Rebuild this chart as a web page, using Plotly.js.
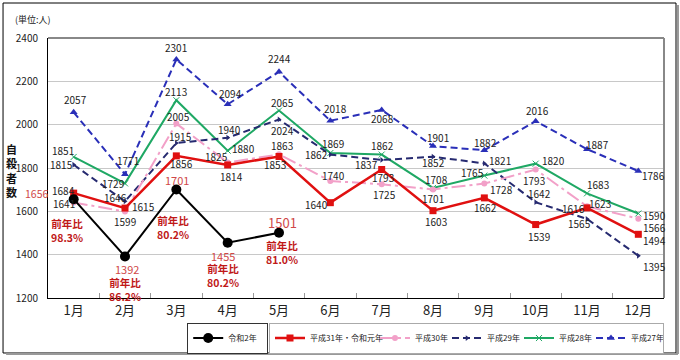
<!DOCTYPE html>
<html><head><meta charset="utf-8">
<script src="https://cdn.plot.ly/plotly-3.0.1.min.js"></script>
<style>html,body{margin:0;padding:0;background:#fff}#c{width:680px;height:360px}</style>
</head><body><div id="c"></div>
<script>
const months = ['1月','2月','3月','4月','5月','6月','7月','8月','9月','10月','11月','12月'];
const reiwa2 = [1656,1392,1701,1455,1501];
const ratioR2 = ['98.3%','86.2%','80.2%','80.2%','81.0%'];
const h31 = [1684,1615,1856,1814,1853,1640,1793,1603,1662,1539,1616,1494];
const h30 = [1641,1599,2005,1825,1863,1740,1725,1701,1728,1793,1623,1566];
const h29 = [1815,1646,1915,1940,2024,1862,1837,1852,1821,1642,1565,1395];
const h28 = [1851,1729,2113,1880,2065,1869,1862,1708,1765,1820,1683,1590];
const h27 = [2057,1771,2301,2094,2244,2018,2068,1901,1882,2016,1887,1786];
const names = ['令和2年','平成31年・令和元年','平成30年','平成29年','平成28年','平成27年'];

// label pixel offsets [dx, dy] (dy positive = up)
const off27 = [[2,13],[3,14],[0,12],[3,11],[0,13],[5,12],[1,-9],[5,9],[1,8],[2,11],[10,5],[15,-4]];
const off28 = [[-11,6],[-12,0],[0,9],[16,2],[3,8],[3,10],[1,9],[3,8],[-12,3],[18,3],[11,9],[16,-2]];
const off29 = [[-12,0],[-10,4],[4,7],[2,8],[3,-11],[-14,0],[-15,-5],[0,-6],[16,3],[4,9],[-8,-5],[16,-11]];
const off30 = [[-10,-1],[0,-10],[2,7],[-11,6],[3,9],[3,6],[3,-10],[0,-9],[17,-6],[-2,-11],[13,3],[16,-9]];
const off31 = [[-10,3],[18,2],[5,-8],[4,-12],[-4,-8],[-14,-2],[1,-8],[3,-11],[1,-10],[3,-12],[-14,-1],[16,-6]];
const offR2 = [[-37,6],[2,-13],[1,9],[-5,-13],[3,10]];
const offRatio = [[-7,-31],[0,-33],[-3,-38],[-5,-33],[3,-20]];
const legendW = [34, 60, 27, 27, 27, 27];
const legendRank = [1, 1, 2, 3, 4, 5];

const font = "'Noto Sans CJK JP', 'Liberation Sans', sans-serif";
const traces = [
  {name:names[0], legend:'legend', x:months.slice(0,5), y:reiwa2, mode:'lines+markers', line:{color:'#000', width:2}, marker:{symbol:'circle', size:10, color:'#000'}},
  {name:names[1], legend:'legend2', x:months, y:h31, mode:'lines+markers', line:{color:'#e01010', width:2.5}, marker:{symbol:'square', size:7, color:'#e01010'}},
  {name:names[2], legend:'legend2', x:months, y:h30, mode:'lines+markers', line:{color:'#f2a0c8', width:2, dash:'14px,4px,3px,4px'}, marker:{symbol:'circle', size:6, color:'#f2a0c8'}},
  {name:names[3], legend:'legend2', x:months, y:h29, mode:'lines+markers', line:{color:'#262a70', width:2, dash:'7px,4px'}, marker:{symbol:'triangle-right', size:5, color:'#262a70'}},
  {name:names[4], legend:'legend2', x:months, y:h28, mode:'lines+markers', line:{color:'#1fa864', width:2}, marker:{symbol:'x-thin', size:6, color:'#1fa864', line:{color:'#1fa864', width:1}}},
  {name:names[5], legend:'legend2', x:months, y:h27, mode:'lines+markers', line:{color:'#2a2fb8', width:2, dash:'7px,4px'}, marker:{symbol:'triangle-up', size:7, color:'#2a2fb8'}}
];
traces.forEach((t,i)=>{ t.legendwidth = legendW[i]; t.legendrank = legendRank[i]; });
// draw order: 平成27 at back, 令和2 on top
const drawOrder = [traces[5], traces[4], traces[3], traces[2], traces[1], traces[0]];

const ann = [];
function addLabels(vals, offs, color, size){
  vals.forEach((v,i)=>{
    ann.push({x:months[i], y:v, xref:'x', yref:'y', text:String(v), showarrow:false,
      xshift:offs[i][0], yshift:offs[i][1], font:{family:font, size:size, color:color}});
  });
}
addLabels(h27, off27, '#222', 10);
addLabels(h28, off28, '#222', 10);
addLabels(h29, off29, '#222', 10);
addLabels(h30, off30, '#222', 10);
addLabels(h31, off31, '#222', 10);
reiwa2.forEach((v,i)=>{
  ann.push({x:months[i], y:v, xref:'x', yref:'y', text:String(v), showarrow:false,
    xshift:offR2[i][0], yshift:offR2[i][1], font:{family:font, size:i===4?13:(i===0?10.5:11), color:'#d04848'}});
  ann.push({x:months[i], y:v, xref:'x', yref:'y', text:'<b>前年比</b><br><b>'+ratioR2[i]+'</b>', showarrow:false,
    xshift:offRatio[i][0], yshift:offRatio[i][1], font:{family:font, size:10.5, color:'#c01818'}});
});
ann.push({xref:'paper', yref:'paper', x:-0.0595, y:0.492, xanchor:'center', yanchor:'middle',
  text:'<b>自</b><br><b>殺</b><br><b>者</b><br><b>数</b>', showarrow:false,
  font:{family:font, size:11, color:'#111'}});
ann.push({xref:'paper', yref:'paper', x:-0.024, y:1.07, xanchor:'center', yanchor:'middle',
  text:'(単位:人)', showarrow:false, font:{family:font, size:9, color:'#222'}});

const legFont = {family:font, size:8, color:'#222'};
const layout = {
  width:680, height:360,
  margin:{l:48, r:16, t:38, b:62, autoexpand:false},
  paper_bgcolor:'#fff', plot_bgcolor:'#fff',
  showlegend:true,
  legend:{orientation:'h', x:0.226, y:-0.154, xanchor:'left', yanchor:'middle', bordercolor:'#333', borderwidth:1,
    font:legFont, itemwidth:30},
  legend2:{orientation:'h', x:1.0, y:-0.154, xanchor:'right', yanchor:'middle', bordercolor:'#aaa', borderwidth:1,
    font:legFont, itemwidth:30},
  xaxis:{type:'category', categoryarray:months, showgrid:false, ticks:'inside', tickson:'boundaries', ticklen:5, tickcolor:'#999',
    showline:true, linecolor:'#000', linewidth:1, tickfont:{family:font, size:13, color:'#222'}, range:[-0.5,11.5]},
  yaxis:{range:[1200,2400], dtick:200, showgrid:true, gridcolor:'#c8c8c8', gridwidth:1, showline:true, linecolor:'#000', linewidth:1,
    ticks:'', tickfont:{family:font, size:10, color:'#222'}, ticklabelstandoff:7, zeroline:false},
  annotations:ann,
  shapes:[
    {type:'line', xref:'paper', yref:'paper', x0:0, x1:1, y0:1, y1:1, line:{color:'#888', width:2}},
    {type:'line', xref:'paper', yref:'paper', x0:1, x1:1, y0:0, y1:1, line:{color:'#888', width:2}},
    {type:'rect', xref:'paper', yref:'paper', x0:-0.073, x1:1.0195, y0:-0.2115, y1:1.1346, line:{color:'#000', width:1}},
    {type:'line', xref:'paper', yref:'paper', x0:1.0227, x1:1.0227, y0:-0.2154, y1:1.127, line:{color:'#999', width:2}},
    {type:'line', xref:'paper', yref:'paper', x0:-0.068, x1:1.0227, y0:-0.2154, y1:-0.2154, line:{color:'#999', width:2}}
  ]
};
Plotly.newPlot('c', drawOrder, layout, {staticPlot:true});
</script></body></html>
